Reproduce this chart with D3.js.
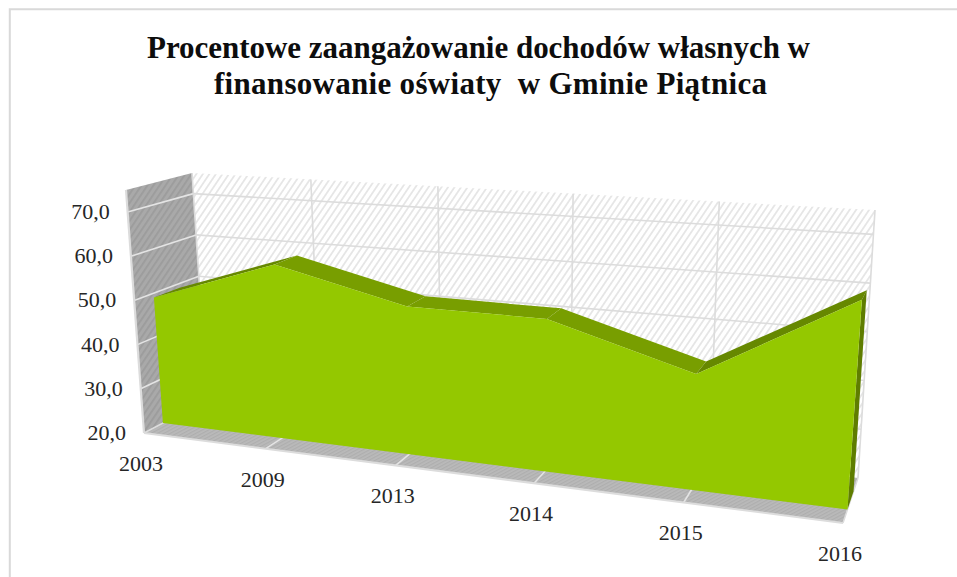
<!DOCTYPE html>
<html><head><meta charset="utf-8">
<script src="https://cdn.jsdelivr.net/npm/d3@7"></script>
<style>html,body{margin:0;padding:0;background:#fff}svg{display:block}</style></head>
<body><svg id="c" width="957" height="577"></svg>
<script>
const titleLines = ["Procentowe zaangażowanie dochodów własnych w", "finansowanie oświaty  w Gminie Piątnica"];
const categories = ["2003","2009","2013","2014","2015","2016"];
const values = [49, 58.7, 51.7, 51.5, 43, 60];
const yTicks = [20,30,40,50,60,70];
const yTickLabels = ["20,0","30,0","40,0","50,0","60,0","70,0"];

// 3D box of the plot (screen corners)
const box = {
  front:{bl:[144,433],br:[843,523],tl:[126,190],tr:[864,226]},
  back: {bl:[207,400],br:[858,478],tl:[192,173],tr:[875,210]}
};
const catPos = d3.scalePoint().domain(categories).range([0,5]);
const tScale = d3.scaleLinear().domain([0,1,2,3,4,5]).range([0,.174,.36,.558,.772,1]);
const fScale = d3.scaleLinear().domain([20,75]).range([0,1]);
const lerp = (a,b,t)=>[a[0]+(b[0]-a[0])*t,a[1]+(b[1]-a[1])*t];
function plane(p,t,f){ return lerp(lerp(p.bl,p.br,t),lerp(p.tl,p.tr,t),f); }
function proj(t,f,z){ return lerp(plane(box.front,t,f),plane(box.back,t,f),z); }
const P = (cat,v,z)=>proj(tScale(catPos(cat)),fScale(v),z);
const poly = d3.line();
const closed = pts=>poly(pts)+"Z";
const Z1=.3, Z2=.7, vMin=20, vMax=75;

const svg = d3.select("#c");
const defs = svg.append("defs");
function hatch(id,bg,fg,w,size,angle){
  const p=defs.append("pattern").attr("id",id).attr("width",size).attr("height",size)
    .attr("patternUnits","userSpaceOnUse").attr("patternTransform",`rotate(${angle})`);
  p.append("rect").attr("width",size).attr("height",size).attr("fill",bg);
  p.append("rect").attr("width",w).attr("height",size).attr("fill",fg);
}
hatch("hBack","#ffffff","#e6e6e6",1.8,5.4,34);
hatch("hLeft","#a9a9a9","#9c9c9c",1.8,5,34);
hatch("hFloor","#bababa","#aeaeae",1.2,3,62);

// chart frame: only the left and top edges fall inside the picture
svg.append("path").attr("d","M9.8,577V9.2H957").attr("fill","none").attr("stroke","#d9d9d9").attr("stroke-width",2);

// title
const titleX = [478.5, 490.5], titleY = [58, 93.5], titleW = [663, 553];
svg.append("g").selectAll("text").data(titleLines).join("text")
  .attr("x",(d,i)=>titleX[i]).attr("y",(d,i)=>titleY[i])
  .attr("text-anchor","middle").attr("font-family","'Liberation Serif',serif")
  .attr("font-weight","bold").attr("font-size",31).attr("fill","#0d0d0d")
  .attr("textLength",(d,i)=>titleW[i]).attr("lengthAdjust","spacing")
  .style("white-space","pre").text(d=>d);

// walls
const corner = (t,v,z)=>proj(t,fScale(v),z);
svg.append("path").attr("d",closed([corner(0,vMin,1),corner(1,vMin,1),corner(1,vMax,1),corner(0,vMax,1)])).attr("fill","url(#hBack)");
svg.append("path").attr("d",closed([corner(0,vMin,0),corner(0,vMin,1),corner(0,vMax,1),corner(0,vMax,0)])).attr("fill","url(#hLeft)");
svg.append("path").attr("d",closed([corner(0,vMin,0),corner(1,vMin,0),corner(1,vMin,1),corner(0,vMin,1)])).attr("fill","url(#hFloor)");

const grid = svg.append("g").attr("fill","none").attr("stroke","#dcdcdc").attr("stroke-width",1.6);
// horizontal gridlines: back wall and side wall
yTicks.filter(v=>v>vMin).forEach(v=>{
  grid.append("path").attr("d",poly([corner(0,v,1),corner(1,v,1)]));
  grid.append("path").attr("d",poly([corner(0,v,0),corner(0,v,1)])).attr("stroke","#e4e4e4");
});
// vertical gridlines and floor ticks
categories.forEach((c,i)=>{
  grid.append("path").attr("d",poly([P(c,vMin,1),P(c,vMax,1)]));
  if(i>0&&i<categories.length-1)
    grid.append("path").attr("d",poly([P(c,vMin,0),P(c,vMin,1)])).attr("stroke","#e4e4e4");
});
// box edges
grid.append("path").attr("d",poly([corner(0,vMin,0),corner(0,vMax,0)])).attr("stroke-width",2.2);
grid.append("path").attr("d",poly([corner(0,vMin,0),corner(1,vMin,0)])).attr("stroke-width",2);
grid.append("path").attr("d",poly([corner(0,vMin,0),corner(0,vMin,1)])).attr("stroke-width",1.5);
grid.append("path").attr("d",poly([corner(1,vMin,0),corner(1,vMin,1)])).attr("stroke-width",1.5);

// area: top surfaces, end face, front face
const topG = svg.append("g");
d3.pairs(categories.map((c,i)=>({c,v:values[i]}))).forEach(([a,b])=>{
  topG.append("path")
    .attr("d",closed([P(a.c,a.v,Z1),P(b.c,b.v,Z1),P(b.c,b.v,Z2),P(a.c,a.v,Z2)]))
    .attr("fill", b.v>a.v ? "#668800" : "#789e00");
});
const lastC = categories[categories.length-1], lastV = values[values.length-1];
topG.append("path")
  .attr("d",closed([P(lastC,lastV,Z1),P(lastC,lastV,Z2),P(lastC,vMin,Z2),P(lastC,vMin,Z1)]))
  .attr("fill","#5f7d00");
const frontPts = categories.map((c,i)=>P(c,values[i],Z1));
svg.append("path")
  .attr("d",closed([...frontPts,P(lastC,vMin,Z1),P(categories[0],vMin,Z1)]))
  .attr("fill","#94c800");

// axis labels
const labelFont = "'Liberation Serif',serif";
svg.append("g").selectAll("text").data(yTicks).join("text")
  .attr("x",d=>corner(0,d,0)[0]-18).attr("y",d=>corner(0,d,0)[1]+7)
  .attr("text-anchor","end").attr("font-family",labelFont).attr("font-size",22).attr("fill","#262626")
  .text((d,i)=>yTickLabels[i]);
svg.append("g").selectAll("text").data(categories).join("text")
  .attr("x",d=>P(d,vMin,0)[0]-3).attr("y",d=>P(d,vMin,0)[1]+38)
  .attr("text-anchor","middle").attr("font-family",labelFont).attr("font-size",22).attr("fill","#262626")
  .text(d=>d);
</script></body></html>
